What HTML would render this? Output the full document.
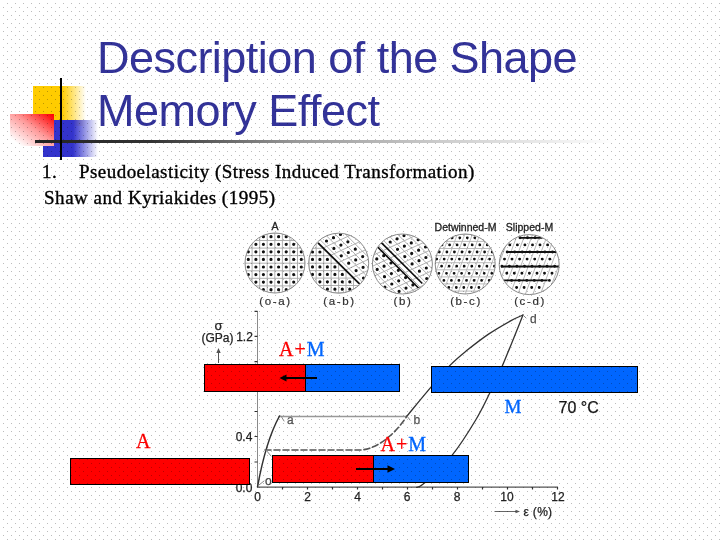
<!DOCTYPE html>
<html><head><meta charset="utf-8">
<style>
html,body{margin:0;padding:0;}
body{width:720px;height:540px;overflow:hidden;position:relative;background:#fff;}
.abs{position:absolute;}
#yel{left:33px;top:86px;width:53px;height:40px;background:linear-gradient(to right,#FFCC00 0,#FFCC00 29px,rgba(255,204,0,0) 53px);}
#blu{left:43px;top:120px;width:55px;height:37px;background:linear-gradient(to right,#3333CC 0,#3333CC 30px,rgba(51,51,204,0) 55px);}
#red{left:10px;top:114px;width:44px;height:32px;background:linear-gradient(to bottom left,#FF0000 0%,#FF1a1a 10%,#FF9a9a 45%,#FFFFFF 88%);}
#vl{left:60px;top:78px;width:2px;height:82px;background:#000;}
#hl{left:35px;top:140px;width:580px;height:3px;background:linear-gradient(to right,#222 0%,#333 20%,#999 45%,rgba(170,170,170,0.6) 70%,rgba(200,200,200,0) 100%);}
.title{font-family:"Liberation Sans",sans-serif;font-size:45px;letter-spacing:-0.53px;color:#333399;left:97px;white-space:nowrap;line-height:1;}
.body{font-family:"Liberation Serif",serif;font-size:19px;color:#000;white-space:nowrap;letter-spacing:0.45px;line-height:1;-webkit-text-stroke:0.35px #000;}
.lbl{font-family:"Liberation Serif",serif;white-space:nowrap;line-height:1;}
.r{color:#FF0000}.b{color:#0066FF}
.bar{position:absolute;border:1px solid #000;box-sizing:border-box;}
#dots{left:0;top:0;width:720px;height:540px;mix-blend-mode:multiply;pointer-events:none;}
</style></head><body>
<div id="yel" class="abs"></div>
<div id="blu" class="abs"></div>
<div id="red" class="abs"></div>
<div id="hl" class="abs"></div>
<div id="vl" class="abs"></div>

<div class="abs title" style="top:35px">Description of the Shape</div>
<div class="abs title" style="top:88px">Memory Effect</div>

<div class="abs body" style="left:42px;top:162px">1.</div>
<div class="abs body" style="left:79px;top:162px">Pseudoelasticity (Stress Induced Transformation)</div>
<div class="abs body" style="left:44px;top:188px;letter-spacing:0.53px">Shaw and Kyriakides (1995)</div>

<svg class="abs" style="left:0;top:0" width="720" height="540" viewBox="0 0 720 540" id="fig">
<defs><clipPath id="cc0"><circle cx="275" cy="263" r="30"/></clipPath><clipPath id="cc1"><circle cx="338.7" cy="263.2" r="30"/></clipPath><clipPath id="cc2"><circle cx="402.4" cy="264" r="30"/></clipPath><clipPath id="cc3"><circle cx="465.2" cy="264" r="30"/></clipPath><clipPath id="cc4"><circle cx="529.2" cy="264.6" r="30"/></clipPath></defs>
<g clip-path="url(#cc0)"><path d="M157.5,149.6L339.1,149.6M157.5,157.2L339.1,157.2M157.5,164.8L339.1,164.8M157.5,172.4L339.1,172.4M157.5,179.9L339.1,179.9M157.5,187.5L339.1,187.5M157.5,195.1L339.1,195.1M157.5,202.6L339.1,202.6M157.5,210.2L339.1,210.2M157.5,217.8L339.1,217.8M157.5,225.3L339.1,225.3M157.5,232.9L339.1,232.9M157.5,240.5L339.1,240.5M157.5,248.1L339.1,248.1M157.5,255.6L339.1,255.6M157.5,263.2L339.1,263.2M157.5,270.8L339.1,270.8M157.5,278.3L339.1,278.3M157.5,285.9L339.1,285.9M157.5,293.5L339.1,293.5M157.5,301.0L339.1,301.0M157.5,308.6L339.1,308.6M157.5,316.2L339.1,316.2M157.5,323.8L339.1,323.8M161.2,145.9L161.2,327.5M168.8,145.9L168.8,327.5M176.4,145.9L176.4,327.5M184.0,145.9L184.0,327.5M191.5,145.9L191.5,327.5M199.1,145.9L199.1,327.5M206.7,145.9L206.7,327.5M214.2,145.9L214.2,327.5M221.8,145.9L221.8,327.5M229.4,145.9L229.4,327.5M236.9,145.9L236.9,327.5M244.5,145.9L244.5,327.5M252.1,145.9L252.1,327.5M259.7,145.9L259.7,327.5M267.2,145.9L267.2,327.5M274.8,145.9L274.8,327.5M282.4,145.9L282.4,327.5M289.9,145.9L289.9,327.5M297.5,145.9L297.5,327.5M305.1,145.9L305.1,327.5M312.6,145.9L312.6,327.5M320.2,145.9L320.2,327.5M327.8,145.9L327.8,327.5M335.4,145.9L335.4,327.5" stroke="#a8a8a8" stroke-width="0.9" fill="none"/><path d="M248.3,251.8h0M248.3,259.4h0M248.3,267.0h0M248.3,274.6h0M255.9,244.3h0M255.9,251.8h0M255.9,259.4h0M255.9,267.0h0M255.9,274.6h0M255.9,282.1h0M263.4,236.7h0M263.4,244.3h0M263.4,251.8h0M263.4,259.4h0M263.4,267.0h0M263.4,274.6h0M263.4,282.1h0M263.4,289.7h0M271.0,236.7h0M271.0,244.3h0M271.0,251.8h0M271.0,259.4h0M271.0,267.0h0M271.0,274.6h0M271.0,282.1h0M271.0,289.7h0M278.6,236.7h0M278.6,244.3h0M278.6,251.8h0M278.6,259.4h0M278.6,267.0h0M278.6,274.6h0M278.6,282.1h0M278.6,289.7h0M286.2,236.7h0M286.2,244.3h0M286.2,251.8h0M286.2,259.4h0M286.2,267.0h0M286.2,274.6h0M286.2,282.1h0M286.2,289.7h0M293.7,244.3h0M293.7,251.8h0M293.7,259.4h0M293.7,267.0h0M293.7,274.6h0M293.7,282.1h0M301.3,251.8h0M301.3,259.4h0M301.3,267.0h0M301.3,274.6h0" stroke="#111" stroke-width="3.2" stroke-linecap="round" fill="none"/></g>
<defs><clipPath id="c2a"><path d="M235.0,161.1L442.5,365.6L235.0,365.6Z"/></clipPath><clipPath id="c2b"><path d="M235.0,161.1L442.5,365.6L442.5,161.1Z"/></clipPath></defs>
<g clip-path="url(#cc1)"><g clip-path="url(#c2a)"><path d="M223.1,166.3L401.9,166.3M223.1,173.8L401.9,173.8M223.1,181.2L401.9,181.2M223.1,188.7L401.9,188.7M223.1,196.1L401.9,196.1M223.1,203.6L401.9,203.6M223.1,211.0L401.9,211.0M223.1,218.5L401.9,218.5M223.1,225.9L401.9,225.9M223.1,233.4L401.9,233.4M223.1,240.8L401.9,240.8M223.1,248.3L401.9,248.3M223.1,255.7L401.9,255.7M223.1,263.2L401.9,263.2M223.1,270.6L401.9,270.6M223.1,278.1L401.9,278.1M223.1,285.5L401.9,285.5M223.1,293.0L401.9,293.0M223.1,300.4L401.9,300.4M223.1,307.9L401.9,307.9M223.1,315.3L401.9,315.3M223.1,322.8L401.9,322.8M223.1,330.2L401.9,330.2M223.1,337.7L401.9,337.7M226.8,162.6L226.8,341.4M234.3,162.6L234.3,341.4M241.7,162.6L241.7,341.4M249.2,162.6L249.2,341.4M256.6,162.6L256.6,341.4M264.1,162.6L264.1,341.4M271.5,162.6L271.5,341.4M279.0,162.6L279.0,341.4M286.4,162.6L286.4,341.4M293.9,162.6L293.9,341.4M301.3,162.6L301.3,341.4M308.8,162.6L308.8,341.4M316.2,162.6L316.2,341.4M323.7,162.6L323.7,341.4M331.1,162.6L331.1,341.4M338.6,162.6L338.6,341.4M346.0,162.6L346.0,341.4M353.5,162.6L353.5,341.4M360.9,162.6L360.9,341.4M368.4,162.6L368.4,341.4M375.8,162.6L375.8,341.4M383.3,162.6L383.3,341.4M390.7,162.6L390.7,341.4M398.2,162.6L398.2,341.4" stroke="#a8a8a8" stroke-width="0.9" fill="none"/><path d="M312.5,252.0h0M312.5,259.4h0M312.5,266.9h0M312.5,274.4h0M319.9,252.0h0M319.9,259.4h0M319.9,266.9h0M319.9,274.4h0M319.9,281.8h0M327.4,259.4h0M327.4,266.9h0M327.4,274.4h0M327.4,281.8h0M327.4,289.2h0M334.9,266.9h0M334.9,274.4h0M334.9,281.8h0M334.9,289.2h0M342.3,274.4h0M342.3,281.8h0M342.3,289.2h0M349.8,281.8h0M349.8,289.2h0" stroke="#111" stroke-width="3.2" stroke-linecap="round" fill="none"/></g><g clip-path="url(#c2b)"><path d="M157.4,195.5L325.4,116.3M164.8,202.9L332.8,123.7M172.2,210.3L340.2,131.1M179.6,217.7L347.6,138.5M187.0,225.1L355.0,145.9M194.4,232.5L362.4,153.3M201.8,239.9L369.8,160.7M209.2,247.3L377.2,168.1M216.6,254.7L384.6,175.5M224.0,262.1L392.0,182.9M231.4,269.5L399.4,190.3M238.8,276.9L406.8,197.7M246.2,284.3L414.2,205.1M253.6,291.7L421.6,212.5M261.0,299.1L429.0,219.9M268.4,306.5L436.4,227.3M275.8,313.9L443.8,234.7M283.2,321.3L451.2,242.1M290.6,328.7L458.6,249.5M298.0,336.1L466.0,256.9M305.4,343.5L473.4,264.3M312.8,350.9L480.8,271.7M320.2,358.3L488.2,279.1M327.6,365.7L495.6,286.5M157.2,190.1L334.8,367.8M164.2,186.8L341.8,364.4M171.2,183.6L348.8,361.2M178.2,180.2L355.8,357.9M185.2,176.9L362.8,354.6M192.2,173.6L369.8,351.2M199.2,170.3L376.8,347.9M206.2,167.0L383.8,344.6M213.2,163.8L390.8,341.4M220.2,160.4L397.8,338.1M227.2,157.1L404.8,334.8M234.2,153.8L411.8,331.5M241.2,150.5L418.8,328.1M248.2,147.2L425.8,324.9M255.2,143.9L432.8,321.6M262.2,140.6L439.8,318.2M269.2,137.3L446.8,315.0M276.2,134.0L453.8,311.6M283.2,130.8L460.8,308.4M290.2,127.4L467.8,305.1M297.2,124.1L474.8,301.8M304.2,120.8L481.8,298.5M311.2,117.5L488.8,295.1M318.2,114.2L495.8,291.9" stroke="#a8a8a8" stroke-width="0.9" fill="none"/><path d="M326.5,241.0h0M333.9,248.4h0M341.3,255.8h0M348.7,263.2h0M356.1,270.6h0M363.5,278.0h0M333.5,237.7h0M340.9,245.1h0M348.3,252.5h0M355.7,259.9h0M363.1,267.3h0M340.5,234.4h0M347.9,241.8h0M355.3,249.2h0M362.7,256.6h0" stroke="#111" stroke-width="3.2" stroke-linecap="round" fill="none"/></g><path d="M318,242.9L359.5,283.8" stroke="#111" stroke-width="1.8"/></g>
<g clip-path="url(#cc2)"><path d="M223.4,196.5L389.1,119.7M230.8,203.8L396.4,127.0M238.1,211.1L403.7,134.2M245.3,218.3L410.9,141.5M252.6,225.7L418.2,148.8M259.9,233.0L425.6,156.2M267.2,240.2L432.9,163.4M274.5,247.6L440.1,170.8M281.8,254.8L447.4,178.0M289.1,262.1L454.8,185.3M296.4,269.5L462.1,192.7M303.8,276.8L469.4,199.9M311.0,284.1L476.6,207.2M318.3,291.4L483.9,214.5M325.6,298.6L491.2,221.8M332.9,306.0L498.6,229.2M340.2,313.2L505.9,236.5M347.5,320.5L513.1,243.7M354.8,327.9L520.5,251.0M362.1,335.1L527.8,258.4M369.4,342.5L535.0,265.6M376.7,349.8L542.3,273.0M384.0,357.0L549.6,280.2M391.3,364.4L557.0,287.5M223.2,191.2L398.4,366.4M230.2,188.0L405.4,363.2M237.0,184.8L412.2,360.0M243.9,181.6L419.1,356.8M250.8,178.4L426.0,353.6M257.8,175.2L432.9,350.4M264.6,172.0L439.9,347.2M271.5,168.8L446.8,344.0M278.5,165.6L453.6,340.8M285.4,162.4L460.5,337.6M292.2,159.2L467.4,334.4M299.1,156.0L474.4,331.2M306.0,152.8L481.2,328.0M313.0,149.6L488.1,324.8M319.9,146.4L495.0,321.6M326.8,143.2L501.9,318.4M333.6,140.0L508.9,315.2M340.5,136.8L515.8,312.0M347.5,133.6L522.6,308.8M354.4,130.4L529.5,305.6M361.2,127.2L536.5,302.4M368.1,124.0L543.4,299.2M375.0,120.8L550.2,296.0M382.0,117.6L557.1,292.8" stroke="#a8a8a8" stroke-width="0.9" fill="none"/><path d="M384.9,287.2h0M377.2,269.4h0M384.5,276.7h0M391.8,284.0h0M399.1,291.3h0M376.8,258.9h0M384.1,266.2h0M391.4,273.5h0M398.7,280.8h0M406.0,288.1h0M383.7,255.7h0M391.0,263.0h0M398.3,270.3h0M405.6,277.6h0M412.9,284.9h0M390.2,242.0h0M397.5,249.3h0M404.8,256.6h0M412.1,263.9h0M419.4,271.2h0M426.7,278.5h0M397.1,238.8h0M404.4,246.1h0M411.7,253.4h0M419.0,260.7h0M426.3,268.0h0M404.0,235.6h0M411.3,242.9h0M418.6,250.2h0M425.9,257.5h0M418.2,239.7h0M425.5,247.0h0" stroke="#111" stroke-width="3.2" stroke-linecap="round" fill="none"/><path d="M381.3,242.6L422.3,283.5M377.6,247L418.5,288" stroke="#111" stroke-width="1.7"/></g>
<g clip-path="url(#cc3)"><path d="M392.1,156.2L573.3,156.2M389.4,163.2L570.6,163.2M386.8,170.4L568.0,170.4M384.1,177.5L565.3,177.5M381.5,184.6L562.7,184.6M378.8,191.7L560.0,191.7M376.2,198.8L557.4,198.8M373.5,205.9L554.7,205.9M370.9,213.0L552.1,213.0M368.2,220.1L549.4,220.1M365.6,227.2L546.8,227.2M362.9,234.2L544.1,234.2M360.3,241.4L541.5,241.4M357.6,248.5L538.8,248.5M355.0,255.6L536.2,255.6M352.3,262.7L533.5,262.7M349.7,269.8L530.9,269.8M347.0,276.9L528.2,276.9M344.4,283.9L525.6,283.9M341.7,291.1L522.9,291.1M339.1,298.1L520.3,298.1M336.4,305.2L517.6,305.2M333.8,312.4L515.0,312.4M331.1,319.4L512.3,319.4M397.2,152.6L333.6,323.0M404.7,152.6L341.1,323.0M412.3,152.6L348.7,323.0M419.8,152.6L356.2,323.0M427.4,152.6L363.8,323.0M434.9,152.6L371.3,323.0M442.5,152.6L378.9,323.0M450.0,152.6L386.4,323.0M457.6,152.6L394.0,323.0M465.1,152.6L401.5,323.0M472.7,152.6L409.1,323.0M480.2,152.6L416.6,323.0M487.8,152.6L424.2,323.0M495.3,152.6L431.7,323.0M502.9,152.6L439.3,323.0M510.4,152.6L446.8,323.0M518.0,152.6L454.4,323.0M525.5,152.6L461.9,323.0M533.1,152.6L469.5,323.0M540.6,152.6L477.0,323.0M548.2,152.6L484.6,323.0M555.7,152.6L492.1,323.0M563.3,152.6L499.7,323.0M570.8,152.6L507.2,323.0" stroke="#b4b4b4" stroke-width="0.9" fill="none"/><path d="M442.0,244.9h0M439.3,252.0h0M436.7,259.1h0M452.2,237.8h0M449.6,244.9h0M446.9,252.0h0M444.2,259.1h0M441.6,266.2h0M438.9,273.3h0M459.8,237.8h0M457.1,244.9h0M454.4,252.0h0M451.8,259.1h0M449.1,266.2h0M446.5,273.3h0M443.9,280.4h0M467.3,237.8h0M464.7,244.9h0M462.0,252.0h0M459.4,259.1h0M456.7,266.2h0M454.1,273.3h0M451.4,280.4h0M448.8,287.5h0M474.8,237.8h0M472.2,244.9h0M469.5,252.0h0M466.9,259.1h0M464.2,266.2h0M461.6,273.3h0M458.9,280.4h0M456.3,287.5h0M479.8,244.9h0M477.1,252.0h0M474.4,259.1h0M471.8,266.2h0M469.1,273.3h0M466.5,280.4h0M463.8,287.5h0M487.3,244.9h0M484.6,252.0h0M482.0,259.1h0M479.3,266.2h0M476.7,273.3h0M474.1,280.4h0M471.4,287.5h0M492.2,252.0h0M489.6,259.1h0M486.9,266.2h0M484.2,273.3h0M481.6,280.4h0M478.9,287.5h0M494.4,266.2h0M491.8,273.3h0M489.2,280.4h0" stroke="#111" stroke-width="2.8" stroke-linecap="round" fill="none"/></g>
<g clip-path="url(#cc4)"><path d="M465.0,152.6L401.4,323.0M472.5,152.6L408.9,323.0M480.1,152.6L416.5,323.0M487.6,152.6L424.0,323.0M495.2,152.6L431.6,323.0M502.7,152.6L439.1,323.0M510.3,152.6L446.7,323.0M517.8,152.6L454.2,323.0M525.4,152.6L461.8,323.0M532.9,152.6L469.3,323.0M540.5,152.6L476.9,323.0M548.0,152.6L484.4,323.0M555.6,152.6L492.0,323.0M563.1,152.6L499.5,323.0M570.7,152.6L507.1,323.0M578.2,152.6L514.6,323.0M585.8,152.6L522.2,323.0M593.3,152.6L529.7,323.0M600.9,152.6L537.3,323.0M608.4,152.6L544.8,323.0M616.0,152.6L552.4,323.0M623.5,152.6L559.9,323.0M631.1,152.6L567.5,323.0M638.6,152.6L575.0,323.0" stroke="#b0b0b0" stroke-width="0.9" fill="none"/><path d="M520.0,237.8h0M527.5,237.8h0M535.1,237.8h0M509.8,244.9h0M517.4,244.9h0M524.9,244.9h0M532.5,244.9h0M540.0,244.9h0M547.6,244.9h0M507.2,252.0h0M514.7,252.0h0M522.2,252.0h0M529.8,252.0h0M537.4,252.0h0M544.9,252.0h0M552.5,252.0h0M504.5,259.1h0M512.0,259.1h0M519.6,259.1h0M527.1,259.1h0M534.7,259.1h0M542.2,259.1h0M549.8,259.1h0M501.9,266.2h0M509.4,266.2h0M516.9,266.2h0M524.5,266.2h0M532.0,266.2h0M539.6,266.2h0M547.1,266.2h0M554.7,266.2h0M506.8,273.3h0M514.3,273.3h0M521.9,273.3h0M529.4,273.3h0M537.0,273.3h0M544.5,273.3h0M552.0,273.3h0M511.6,280.4h0M519.2,280.4h0M526.8,280.4h0M534.3,280.4h0M541.9,280.4h0M549.4,280.4h0M516.6,287.5h0M524.1,287.5h0M531.7,287.5h0M539.2,287.5h0" stroke="#111" stroke-width="2.9" stroke-linecap="round" fill="none"/><path d="M520,237.8H542.6M508,252H556.5M501,266.5H559M503.6,280.4H547.6" stroke="#111" stroke-width="1.8" fill="none"/></g>
<circle cx="275" cy="263" r="30" fill="none" stroke="#8a8a8a" stroke-width="1"/>
<circle cx="338.7" cy="263.2" r="30" fill="none" stroke="#8a8a8a" stroke-width="1"/>
<circle cx="402.4" cy="264" r="30" fill="none" stroke="#8a8a8a" stroke-width="1"/>
<circle cx="465.2" cy="264" r="30" fill="none" stroke="#8a8a8a" stroke-width="1"/>
<circle cx="529.2" cy="264.6" r="30" fill="none" stroke="#8a8a8a" stroke-width="1"/>
<g font-family="Liberation Sans" fill="#222">
<!-- labels -->
<g font-size="11" text-anchor="middle" stroke="#222" stroke-width="0.3">
<text x="275" y="229.5" font-size="10.5">A</text>
<text x="465.5" y="231" font-size="10.5">Detwinned-M</text>
<text x="529.5" y="231" font-size="10.5">Slipped-M</text>
</g>
<g font-size="11.5" text-anchor="middle" fill="#333" letter-spacing="1.6" stroke="#333" stroke-width="0.2">
<text x="275.5" y="304.8">(o-a)</text>
<text x="339.5" y="304.8">(a-b)</text>
<text x="403" y="304.8">(b)</text>
<text x="466" y="304.8">(b-c)</text>
<text x="530" y="304.8">(c-d)</text>
</g>
<!-- axes -->
<g stroke="#666" stroke-width="1" fill="none">
<path d="M257.5,311V487" stroke="#8a8a8a"/>
<path d="M257.5,487.2H558" stroke="#555" stroke-width="1.3"/>
</g>
<g stroke="#333" stroke-width="1.2" fill="none">
<path d="M257.5,311.3h-3M257.5,336.4h-3M257.5,361.6h-3M257.5,386.8h-3M257.5,411.5h-3M257.5,436.5h-3M257.5,462h-3"/>
<path d="M282.5,487v2.5M307.5,487v2.5M332.5,487v2.5M357.5,487v2.5M382.5,487v2.5M407.5,487v2.5M432.5,487v2.5M457.5,487v2.5M482.5,487v2.5M507.5,487v2.5M532.5,487v2.5M557.5,487v2.5"/>
</g>
<g stroke="#555" stroke-width="1" fill="none">
<path d="M218.5,363V351"/>
<path d="M494.5,511.5H517" stroke-width="0.9"/>
</g>
<path d="M216.3,353L218.5,348L220.7,353Z" fill="#555"/>
<path d="M515.5,509.8L520,511.5L515.5,513.2Z" fill="#555"/>
<g font-size="12" fill="#222" stroke="#222" stroke-width="0.25">
<text x="218.5" y="330" text-anchor="middle" font-size="13">σ</text>
<text x="217.5" y="341.8" text-anchor="middle">(GPa)</text>
<text x="244.5" y="340.5" text-anchor="middle">1.2</text>
<text x="244" y="441" text-anchor="middle">0.4</text>
<text x="244" y="492" text-anchor="middle">0.0</text>
<text x="257.5" y="501.2" text-anchor="middle">0</text>
<text x="307.7" y="501.2" text-anchor="middle">2</text>
<text x="357.5" y="501.2" text-anchor="middle">4</text>
<text x="407" y="501.2" text-anchor="middle">6</text>
<text x="457" y="501.2" text-anchor="middle">8</text>
<text x="507" y="501.2" text-anchor="middle">10</text>
<text x="558" y="501.2" text-anchor="middle">12</text>
<text x="538" y="515.7" text-anchor="middle" letter-spacing="0.3">ε (%)</text>
<text x="287" y="423.5" font-size="12" fill="#555" stroke="#555">a</text>
<text x="413.5" y="424" font-size="12" fill="#555" stroke="#555">b</text>
<text x="530" y="322.5" font-size="12" fill="#555" stroke="#555">d</text>
<text x="265" y="485" font-size="12" fill="#444" stroke="#444">o</text>
<text x="558.5" y="412.8" font-size="16" fill="#111">70 °C</text>
</g>
<!-- curves -->
<g fill="none" stroke-linecap="round">
<path d="M279,416.5H407" stroke="#999" stroke-width="1.5"/>
<path d="M257.5,487 C262,462 268,437 279.5,416" stroke="#333" stroke-width="1.5"/>
<path d="M265,450H361 C376,449 394,436 407,416" stroke="#555" stroke-width="1.6" stroke-dasharray="6,3"/>
<path d="M407.0,416.0 C411.0,411.2 423.8,395.6 431.0,387.2 C438.2,378.8 444.1,371.5 450.0,365.4 C455.9,359.3 460.2,355.9 466.7,350.6 C473.2,345.4 481.5,338.9 488.9,333.9 C496.3,328.9 505.3,323.8 511.0,320.6 C516.7,317.5 521.0,315.9 523.0,315.0" stroke="#333" stroke-width="1.3"/>
<path d="M523.0,315.0 C519.6,323.4 508.0,352.6 502.5,365.5 C497.0,378.4 494.5,383.4 490.0,392.5 C485.5,401.6 482.0,409.5 475.7,420.0 C469.4,430.5 460.4,445.0 452.0,455.4 C443.6,465.8 430.9,477.2 425.0,482.5 C419.1,487.8 418.1,486.6 416.7,487.4" stroke="#333" stroke-width="1.3"/>
<path d="M281,416 L284,421M407,416 L410,420M523,315 L526,318M266,450L271,456M259,485L264,481" stroke="#888" stroke-width="1"/>
</g>
</g>

</svg>

<div class="bar" style="left:204px;top:364px;width:196px;height:28px;background:linear-gradient(to right,#FF0000 0,#FF0000 100px,#000 100px,#000 101px,#0066FF 101px)"></div>
<div class="bar" style="left:431px;top:366px;width:207px;height:27px;background:#0066FF"></div>
<div class="bar" style="left:70px;top:458px;width:180px;height:27px;background:#FF0000"></div>
<div class="bar" style="left:272px;top:455px;width:197px;height:28px;background:linear-gradient(to right,#FF0000 0,#FF0000 100px,#000 100px,#000 101px,#0066FF 101px)"></div>
<svg class="abs" style="left:0;top:0" width="720" height="540">
<g stroke="#000" stroke-width="2"><path d="M285,378H317"/><path d="M356,469H389"/></g>
<path d="M279.5,378L286.5,374.6V381.4Z" fill="#000"/>
<path d="M395,469L387.5,465.2V472.8Z" fill="#000"/>
<g font-family="Liberation Serif" font-size="20" letter-spacing="1" stroke-width="0.3">
<text x="279" y="356"><tspan fill="#FF0000" stroke="#FF0000">A+</tspan><tspan fill="#0066FF" stroke="#0066FF">M</tspan></text>
<text x="380.5" y="450.5"><tspan fill="#FF0000" stroke="#FF0000">A+</tspan><tspan fill="#0066FF" stroke="#0066FF">M</tspan></text>
<text x="136" y="447.5" fill="#FF0000" stroke="#FF0000">A</text>
<text x="504.5" y="413" fill="#0066FF" stroke="#0066FF" font-size="19" letter-spacing="0">M</text>
</g>
</svg>

<svg id="dots" class="abs" width="720" height="540">
<defs><pattern id="dp" width="8" height="8" patternUnits="userSpaceOnUse">
<rect x="7" y="3" width="1" height="1" fill="#bcbcbc"/><rect x="3" y="7" width="1" height="1" fill="#bcbcbc"/>
</pattern></defs>
<rect width="720" height="540" fill="url(#dp)" shape-rendering="crispEdges"/>
</svg>
</body></html>
